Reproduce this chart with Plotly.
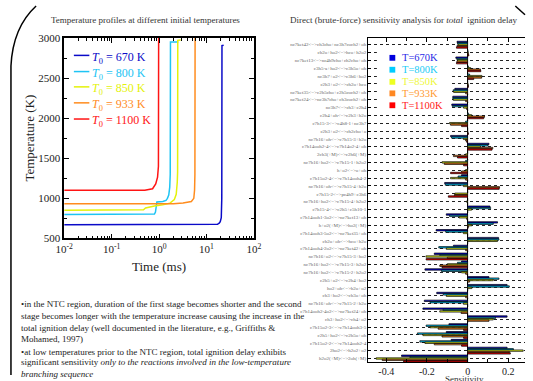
import plotly.graph_objects as go

W, H = 533, 381
SERIF = "Liberation Serif"

def px(x):
    return x / W

def py(y):
    return 1 - y / H

# ---------------- Left chart data: temperature profiles ----------------
t670 = [0.01, 10, 15, 17, 18.5, 19.5, 20.5, 21.0, 21.2, 23]
T670 = [670, 670, 671, 676, 690, 710, 760, 1000, 2905, 2910]

t800 = [0.01, 0.7, 0.8, 0.84, 0.86, 0.9, 1.2, 1.4, 1.5, 1.6, 1.68, 1.72, 1.74, 2.55]
T800 = [800, 800, 805, 830, 900, 955, 962, 975, 1000, 1040, 1140, 1300, 2950, 2950]

t850 = [0.01, 0.4, 0.47, 0.52, 0.6, 0.8, 1.2, 1.7, 2.1, 2.3, 2.42, 2.46, 2.48, 2.85]
T850 = [850, 850, 858, 880, 890, 905, 920, 940, 985, 1050, 1200, 1330, 2970, 2975]

t933 = [0.01, 2.0, 3.2, 4.8, 5.4, 5.6, 5.7, 5.75]
T933 = [933, 933, 943, 960, 1000, 1100, 1300, 3000]

t1100 = [0.01, 0.5, 0.73, 0.85, 0.93, 0.97, 0.98]
T1100 = [1100, 1100, 1120, 1180, 1265, 1400, 3000]

profile_names = ["670 K", "800 K", "850 K", "933 K", "1100 K"]
colors = ["#0a0ac8", "#1ec4f4", "#e4f20a", "#ff8c1e", "#ff1414"]

# ---------------- Right chart data: sensitivities ----------------
reactions = [
    "nc7ket42<=>ch3cho+nc3h7coch2+oh",
    "ch2o+ho2<=>hco+h2o2",
    "nc7ket13<=>nc4h9cho+ch2cho+oh",
    "c3h5-a+ho2<=>c3h5o+oh",
    "nc3h7+o2<=>c3h6+ho2",
    "c2h3+o2<=>ch2o+hco",
    "nc7ket35<=>c2h5cho+c2h5coch2+oh",
    "nc7ket24<=>nc3h7cho+ch3coch2+oh",
    "nc3h7<=>ch3+c2h4",
    "c2h4+oh<=>c2h3+h2o",
    "c7h15-3<=>c4h8-1+nc3h7",
    "c2h3+o2<=>ch2cho+o",
    "nc7h16+oh<=>c7h15-3+h2o",
    "c7h14ooh2-4<=>c7h14o2-4+oh",
    "2ch3(+M)<=>c2h6(+M)",
    "nc7h16+ho2<=>c7h15-1+h2o2",
    "h+o2<=>o+oh",
    "c7h15o2-4<=>c7h14ooh4-2",
    "nc7h16+oh<=>c7h15-4+h2o",
    "c7h15-2<=>pc4h9+c3h6",
    "nc7h16+ho2<=>c7h15-4+h2o2",
    "c7h15-4<=>c2h5+c5h10-1",
    "c7h14ooh1-3o2<=>nc7ket13+oh",
    "h+o2(+M)<=>ho2(+M)",
    "c7h14ooh3-5o2<=>nc7ket35+oh",
    "ch2o+oh<=>hco+h2o",
    "c7h14ooh4-2o2<=>nc7ket42+oh",
    "nc7h16+o2<=>c7h15-3+ho2",
    "nc7h16+ho2<=>c7h15-3+h2o2",
    "nc7h16+ho2<=>c7h15-2+h2o2",
    "c2h5+o2<=>c2h4+ho2",
    "ho2+oh<=>h2o+o2",
    "ch3+ho2<=>ch3o+oh",
    "nc7h16+oh<=>c7h15-2+h2o",
    "c7h14ooh2-4o2<=>nc7ket24+oh",
    "ch3+ho2<=>ch4+o2",
    "c7h15o2-3<=>c7h14ooh3-5",
    "c2h5+ho2<=>c2h5o+oh",
    "c7h15o2-2<=>c7h14ooh2-4",
    "2ho2<=>h2o2+o2",
    "h2o2(+M)<=>2oh(+M)",
]

s670 = [-0.052, 0.0, -0.058, 0.0, 0.0, 0.0, -0.063, -0.073, -0.078, 0.0,
        0.0, 0.0, -0.084, 0.105, 0.0, 0.0, 0.0, -0.03, -0.113, 0.0,
        0.0, 0.11, -0.105, 0.147, -0.155, 0.152, -0.07, -0.164, -0.03, -0.21,
        0.105, 0.194, -0.152, -0.213, -0.22, 0.194, -0.092, -0.105, -0.081, 0.194,
        -0.325]
s800 = [-0.05, 0.002, -0.053, 0.004, 0.01, 0.0, -0.071, -0.073, -0.075, 0.005,
        -0.01, 0.0, -0.079, 0.1, 0.0, -0.01, 0.0, -0.047, -0.11, 0.0,
        0.0, 0.113, -0.089, 0.126, -0.108, 0.154, -0.142, -0.137, -0.05, -0.129,
        0.154, 0.205, -0.12, -0.185, -0.121, 0.137, -0.204, -0.247, -0.235, 0.225,
        -0.284]
s850 = [-0.047, 0.003, -0.05, 0.015, 0.07, 0.002, -0.069, -0.071, -0.02, 0.02,
        -0.089, 0.0, -0.021, 0.063, -0.01, -0.126, -0.01, -0.084, -0.021, -0.063,
        -0.005, 0.02, -0.042, 0.021, -0.021, 0.147, -0.105, -0.205, -0.1, -0.03,
        0.126, 0.021, -0.105, -0.021, -0.137, 0.126, -0.185, -0.22, -0.21, 0.273,
        -0.45]
s933 = [-0.052, 0.004, -0.053, 0.063, 0.069, 0.004, -0.01, -0.01, -0.005, 0.083,
        -0.084, 0.002, -0.01, 0.124, -0.07, -0.115, -0.03, -0.01, 0.157, -0.065,
        0.0, 0.0, -0.005, 0.005, 0.0, 0.0, -0.01, -0.1, -0.137, -0.01,
        0.01, 0.0, -0.01, 0.0, -0.032, 0.105, -0.145, -0.126, -0.164, 0.205,
        -0.42]
s1100 = [-0.055, 0.006, -0.055, 0.065, 0.03, 0.004, 0.0, 0.0, 0.0, 0.079,
         -0.03, 0.004, -0.005, 0.12, -0.05, -0.02, -0.084, 0.0, 0.155, -0.095,
         0.0, 0.0, 0.0, 0.002, 0.0, 0.0, 0.0, -0.204, -0.126, 0.0,
         0.0, 0.0, 0.0, 0.0, 0.0, 0.0, -0.02, -0.02, -0.03, 0.21,
         -0.315]

bar_names = ["T=670K", "T=800K", "T=850K", "T=933K", "T=1100K"]
bar_colors = ["#0000dd", "#00ccff", "#eeff22", "#ff8822", "#ff0000"]
legend_text_colors = ["#2a2ae6", "#22ccf6", "#eef83a", "#ff9a30", "#ff1a1a"]

x_ticks = [-0.4, -0.2, 0, 0.2]
x_tick_text = ["-0.4", "-0.2", "0", "0.2"]

# ---------------- Figure ----------------
fig = go.Figure()

profiles = [(t670, T670), (t800, T800), (t850, T850), (t933, T933), (t1100, T1100)]
for (t, T), name, c in zip(profiles, profile_names, colors):
    fig.add_trace(go.Scatter(x=t, y=T, mode="lines", name=name,
                             line=dict(color=c, width=1.5),
                             xaxis="x", yaxis="y", showlegend=False))

series = [s670, s800, s850, s933, s1100]
for vals, name, c in zip(series, bar_names, bar_colors):
    fig.add_trace(go.Bar(y=reactions, x=vals, orientation="h", name=name,
                         marker=dict(color=c, line=dict(color="black", width=0.7)),
                         xaxis="x2", yaxis="y2", showlegend=False))

tick_text_reac = [r.replace("<", "&lt;").replace(">", "&gt;") for r in reactions]

axis_font = dict(family=SERIF, size=11, color="#222")

fig.update_layout(
    width=W, height=H, autosize=False,
    margin=dict(l=0, r=0, t=0, b=0),
    paper_bgcolor="white", plot_bgcolor="white",
    font=dict(family=SERIF, color="#222"),
    barmode="group", bargap=0.12, bargroupgap=0,
    xaxis=dict(
        type="log", range=[-2, 2], domain=[px(57), px(253)], anchor="y",
        tickvals=[0.01, 0.1, 1, 10, 100],
        ticktext=["10<sup>-2</sup>", "10<sup>-1</sup>", "10<sup>0</sup>",
                  "10<sup>1</sup>", "10<sup>2</sup>"],
        ticks="inside", ticklen=5, tickcolor="black", mirror="ticks",
        showline=True, linecolor="black", linewidth=1.5, showgrid=False,
        minor=dict(ticks="inside", ticklen=3, tickcolor="black", dtick="D1"),
        tickfont=axis_font,
        title=dict(text="Time (ms)", font=dict(family=SERIF, size=13, color="#222"), standoff=8),
    ),
    yaxis=dict(
        range=[500, 3000], domain=[py(240), py(33)], anchor="x",
        tickvals=[500, 1000, 1500, 2000, 2500, 3000],
        ticks="inside", ticklen=5, tickcolor="black", mirror="ticks",
        showline=True, linecolor="black", linewidth=1.5, showgrid=False,
        minor=dict(ticks="inside", ticklen=3, tickcolor="black", dtick=250),
        tickfont=axis_font,
        title=dict(text="Temperature (K)", font=dict(family=SERIF, size=13, color="#222"), standoff=1),
    ),
    xaxis2=dict(
        range=[-0.489, 0.282], domain=[px(371), 1.0], anchor="y2",
        tickvals=x_ticks, ticktext=x_tick_text,
        ticks="inside", ticklen=4, tickcolor="black", mirror="ticks",
        showline=True, linecolor="black", linewidth=1, showgrid=False,
        minor=dict(ticks="inside", ticklen=3, tickcolor="black", dtick=0.1),
        zeroline=True, zerolinecolor="black", zerolinewidth=1,
        tickfont=dict(family=SERIF, size=10, color="#222"),
    ),
    yaxis2=dict(
        type="category", range=[40.5, -0.9], domain=[py(368), py(32.7)], anchor="x2",
        tickmode="array", tickvals=reactions, ticktext=tick_text_reac,
        ticks="inside", ticklen=3, tickcolor="black",
        showline=True, linecolor="black", linewidth=1, mirror=False,
        showgrid=True, gridcolor="#222", griddash="dot", gridwidth=1,
        tickfont=dict(family=SERIF, size=5, color="#666"),
    ),
)

shapes = []
annotations = []

# Left legend (line swatches + coloured labels)
leg_y = [51, 67.7, 83.5, 100, 116.7]
for yy, name, c in zip(leg_y, profile_names, colors):
    shapes.append(dict(type="line", xref="paper", yref="paper",
                       x0=px(67), x1=px(83), y0=py(yy), y1=py(yy),
                       line=dict(color=c, width=1.5)))
    annotations.append(dict(xref="paper", yref="paper", x=px(83.5), y=py(yy + 2.5),
                            xanchor="left", yanchor="middle", showarrow=False,
                            text="<i>T</i><sub>0</sub> = " + name,
                            font=dict(family=SERIF, size=12, color=c)))

# Right legend box + squares + coloured labels
shapes.append(dict(type="rect", xref="paper", yref="paper", layer="above",
                   x0=px(380), x1=px(456), y0=py(110), y1=py(44),
                   fillcolor="white", line=dict(width=0)))
sq_y = [53.5, 65.8, 78.3, 90.2, 102.5]
for yy, name, c, tc in zip(sq_y, bar_names, bar_colors, legend_text_colors):
    shapes.append(dict(type="rect", xref="paper", yref="paper", layer="above",
                       x0=px(393), x1=px(399), y0=py(yy + 3), y1=py(yy - 3),
                       fillcolor=c, line=dict(width=0)))
    annotations.append(dict(xref="paper", yref="paper", x=px(404), y=py(yy),
                            xanchor="left", yanchor="middle", showarrow=False,
                            text=name, font=dict(family=SERIF, size=10.5, color=tc)))

# Titles
annotations.append(dict(xref="paper", yref="paper", x=px(141), y=py(14),
                        xanchor="center", yanchor="middle", showarrow=False,
                        text="Temperature profiles at different initial temperatures",
                        font=dict(family=SERIF, size=9, color="#333")))
annotations.append(dict(xref="paper", yref="paper", x=px(407), y=py(14),
                        xanchor="center", yanchor="middle", showarrow=False,
                        text="Direct (brute-force) sensitivity analysis for <i>total</i>  ignition delay",
                        font=dict(family=SERIF, size=9, color="#333")))
annotations.append(dict(xref="paper", yref="paper", x=px(470), y=py(377.5),
                        xanchor="center", yanchor="top", showarrow=False,
                        text="Sensitivity",
                        font=dict(family=SERIF, size=9, color="#333")))

# Bottom-left notes
notes = [
    (308, "•in the NTC region, duration of the first stage becomes shorter and the second"),
    (320, "stage becomes longer with the temperature increase causing the increase in the"),
    (332, "total ignition delay (well documented in the literature, e.g., Griffiths &amp;"),
    (344, "Mohamed, 1997)"),
    (357, "•at low temperatures prior to the NTC region, total ignition delay exhibits"),
    (368, "significant sensitivity <i>only to the reactions involved in the low-temperature</i>"),
    (380, "<i>branching sequence</i>"),
]
for yy, txt in notes:
    annotations.append(dict(xref="paper", yref="paper", x=px(10), y=py(yy),
                            xanchor="left", yanchor="middle", showarrow=False,
                            text=txt, font=dict(family=SERIF, size=9, color="#222")))

# Slide decorations (border arcs)
arc = "M {:.4f},{:.4f} Q {:.4f},{:.4f} {:.4f},{:.4f} L {:.4f},{:.4f}".format(
    px(28), py(0), px(4), py(22), px(2), py(62), px(2), py(381))
shapes.append(dict(type="path", xref="paper", yref="paper", path=arc,
                   line=dict(color="black", width=1.5)))
corner = "M {:.4f},{:.4f} L {:.4f},{:.4f}".format(px(523), py(0), px(533), py(9))
shapes.append(dict(type="path", xref="paper", yref="paper", path=corner,
                   line=dict(color="black", width=1.5)))

fig.update_layout(shapes=shapes, annotations=annotations)

fig.write_html(
    "out.html",
    config={"displayModeBar": False},
    post_script="document.body.style.margin='0';document.body.style.overflow='hidden';",
)
